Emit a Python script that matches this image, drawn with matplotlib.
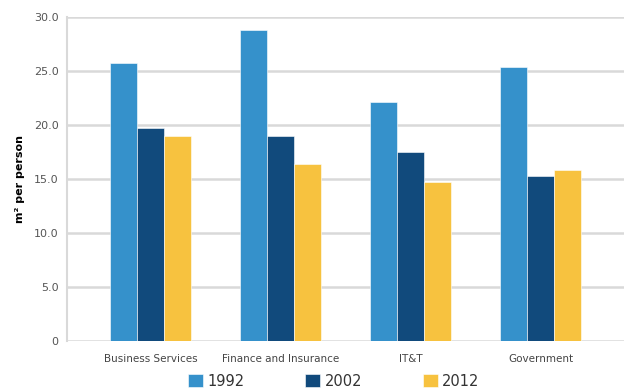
import matplotlib.pyplot as plt
import numpy as np

categories = ["Business Services", "Finance and Insurance", "IT&T", "Government"]
years = ["1992", "2002", "2012"]
values_1992 = [25.7, 28.8, 22.1, 25.4]
values_2002 = [19.7, 19.0, 17.5, 15.3]
values_2012 = [19.0, 16.4, 14.7, 15.8]
y_ticks = [0, 5, 10, 15, 20, 25, 30]
y_tick_labels = ["0", "5.0", "10.0", "15.0", "20.0", "25.0", "30.0"]

colors = ["#3591cb", "#114a7c", "#f7c23f"]

fig = plt.figure(figsize=(6.24, 3.92), dpi=100)
ax = fig.add_axes([0.107, 0.130, 0.893, 0.827])

x = np.arange(len(categories))
width = 0.207
series = [values_1992, values_2002, values_2012]
for i, (vals, year) in enumerate(zip(series, years)):
    ax.bar(x + (i - 1) * width, vals, width, color=colors[i], label=year,
           edgecolor="white", linewidth=0.4, zorder=3)

ax.set_xlim(-0.646, 3.64)
ax.set_ylim(0, 30)
ax.set_yticks(y_ticks)
ax.set_yticklabels(y_tick_labels, fontsize=8, color="#555555")
ax.set_xticks(x)
ax.set_xticklabels(categories, fontsize=7.5, color="#444444")
ax.tick_params(axis="both", length=0, pad=6)
ax.tick_params(axis="x", pad=9)

ax.grid(axis="y", color="#d9d9d9", linewidth=1.8, zorder=0)
for side in ["top", "right", "bottom"]:
    ax.spines[side].set_visible(False)
ax.spines["left"].set_color("#d9d9d9")
ax.spines["left"].set_linewidth(1.5)

ax.set_ylabel("m² per person", fontsize=8, fontweight="bold", labelpad=6)

fig.legend(loc="lower center", bbox_to_anchor=(0.535, -0.025), ncol=3, frameon=False,
           fontsize=10.5, handlelength=1.0, handleheight=1.0, handletextpad=0.3,
           columnspacing=4.2, labelcolor="#333333")

fig.savefig("out.png", dpi=100)
